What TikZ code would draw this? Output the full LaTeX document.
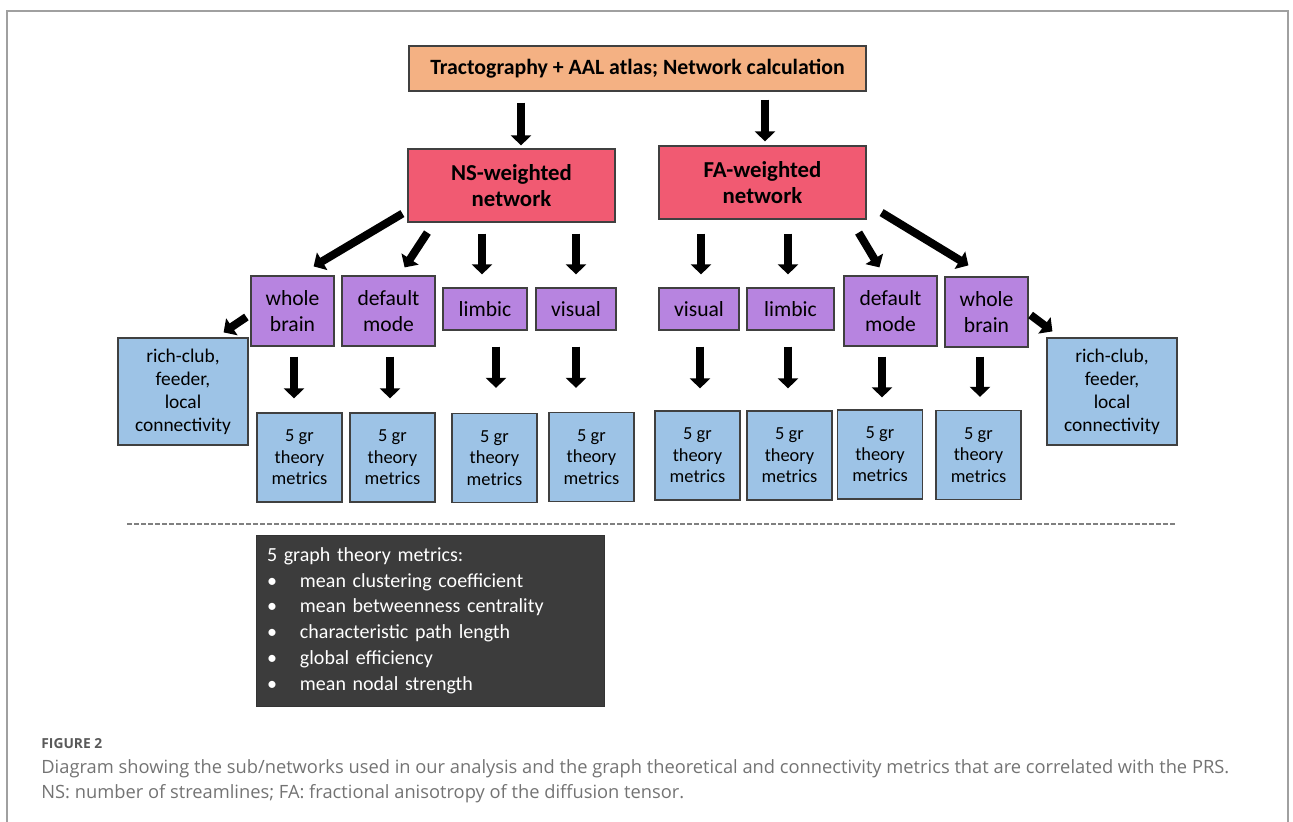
\documentclass[tikz,border=0pt]{standalone}
\usepackage{fontspec}
\setmainfont{Carlito}
\newfontfamily\capfont{Open Sans}
\usepackage{xcolor}
\usetikzlibrary{arrows.meta,calc}

\definecolor{topcol}{HTML}{F4B183}
\definecolor{netcol}{HTML}{F15A72}
\definecolor{subcol}{HTML}{B784E0}
\definecolor{metcol}{HTML}{9DC3E6}
\definecolor{legcol}{HTML}{3C3C3C}
\definecolor{framecol}{HTML}{A0A0A0}

\begin{document}
\begin{tikzpicture}[x=0.5pt,y=-0.5pt,
		box/.style={draw=black!75, line width=0.6pt, align=center, inner sep=0pt},
		topbox/.style={box, fill=topcol, font=\bfseries\fontsize{10.9}{13}\selectfont},
		netbox/.style={box, fill=netcol, font=\bfseries\fontsize{11.4}{13}\selectfont, minimum width=103.5pt, minimum height=36.5pt},
		subbox/.style={box, fill=subcol, font=\fontsize{10.8}{13}\selectfont},
		metbox/.style={box, fill=metcol, font=\fontsize{9.2}{10.75}\selectfont, minimum width=42.5pt, minimum height=44.5pt},
		clubbox/.style={box, fill=metcol, font=\fontsize{9.7}{11.5}\selectfont, minimum width=65pt, minimum height=53.5pt},
		flow/.style={line width=4pt, -{Triangle[length=5pt,width=10pt]}}]
	\useasboundingbox (0,0) rectangle (1293,822);
	\draw[framecol, line width=0.8pt] (7,822) -- (7,11) -- (1288,11) -- (1288,822);
	
	% pipeline
	\node[topbox, minimum width=228.5pt, minimum height=22.5pt] (top) at (637.5,68.5) {Tractography + AAL atlas; Network calculation};
	\node[netbox] (ns) at (511.5,185.5) {NS-weighted\\network};
	\node[netbox] (fa) at (762.5,182.5) {FA-weighted\\network};
	
	% subnetworks
	\node[subbox, minimum width=41.5pt, minimum height=35pt] (wbL) at (292.5,311) {whole\\brain};
	\node[subbox, minimum width=46.5pt, minimum height=35pt] (dmL) at (388.5,311) {default\\mode};
	\node[subbox, minimum width=42pt, minimum height=21pt] (limL) at (485,309) {limbic};
	\node[subbox, minimum width=40pt, minimum height=21pt] (visL) at (576,309) {visual};
	\node[subbox, minimum width=40pt, minimum height=21pt] (visR) at (699,309) {visual};
	\node[subbox, minimum width=43.5pt, minimum height=21pt] (limR) at (790.5,309) {limbic};
	\node[subbox, minimum width=46.5pt, minimum height=35pt] (dmR) at (890.5,311) {default\\mode};
	\node[subbox, minimum width=41.5pt, minimum height=35pt] (wbR) at (986.5,312) {whole\\brain};
	
	% metrics
	\node[clubbox] (rcL) at (183,391.5) {rich-club,\\feeder,\\local\\connectivity};
	\node[clubbox] (rcR) at (1112,391.5) {rich-club,\\feeder,\\local\\connectivity};
	\node[metbox] (gL1) at (299.5,457.5) {5 gr\\theory\\metrics};
	\node[metbox] (gL2) at (392.5,457.5) {5 gr\\theory\\metrics};
	\node[metbox] (gL3) at (494.5,458) {5 gr\\theory\\metrics};
	\node[metbox] (gL4) at (591.5,457) {5 gr\\theory\\metrics};
	\node[metbox] (gR1) at (697.5,455.5) {5 gr\\theory\\metrics};
	\node[metbox] (gR2) at (789.5,455.5) {5 gr\\theory\\metrics};
	\node[metbox] (gR3) at (880,454.5) {5 gr\\theory\\metrics};
	\node[metbox] (gR4) at (978.5,455) {5 gr\\theory\\metrics};
	
	% top to networks
	\draw[flow] ($(ns.north |- top.south)+(9.5,11)$) -- ($(ns.north)+(9.5,-3)$);
	\draw[flow] ($(fa.north |- top.south)+(2.5,8)$) -- ($(fa.north)+(2.5,-4)$);
	% NS network
	\draw[flow] ($(ns.south west)+(-5,-9)$) -- ($(wbL.north east)+(-21,-9)$);
	\draw[flow] ($(ns.south west)+(20,10)$) -- ($(dmL.north east)+(-31,-8)$);
	\draw[flow] ($(limL.north |- ns.south)+(-3,11)$) -- ($(limL.north)+(-3,-13)$);
	\draw[flow] ($(visL.north |- ns.south)+(0,11)$) -- ($(visL.north)+(0,-13)$);
	% FA network
	\draw[flow] ($(visR.north |- fa.south)+(2,14)$) -- ($(visR.north)+(2,-13)$);
	\draw[flow] ($(limR.north |- fa.south)+(-2.5,14)$) -- ($(limR.north)+(-2.5,-13)$);
	\draw[flow] ($(fa.south east)+(-8,13)$) -- ($(dmR.north west)+(36,-8)$);
	\draw[flow] ($(fa.south east)+(15,-7)$) -- ($(wbR.north west)+(24,-11)$);
	% rich-club
	\draw[flow] ($(wbL.west)+(-4,6)$) -- ($(rcL.north east)+(-25,-5)$);
	\draw[flow] ($(wbR.east)+(2,3)$) -- ($(rcR.north west)+(6,-6)$);
	% subnetworks to metrics
	\draw[flow] ($(wbL.south)+(1.5,10)$) -- ($(wbL.south |- gL1.north)+(1.5,-14)$);
	\draw[flow] ($(dmL.south)+(1.5,10)$) -- ($(dmL.south |- gL2.north)+(1.5,-14)$);
	\draw[flow] ($(limL.south)+(11,16)$) -- ($(limL.south |- gL3.north)+(11,-25)$);
	\draw[flow] ($(visL.south)+(0,16)$) -- ($(visL.south |- gL4.north)+(0,-24)$);
	\draw[flow] ($(visR.south)+(1,16)$) -- ($(visR.south |- gR1.north)+(1,-22)$);
	\draw[flow] ($(limR.south)+(-2.5,16)$) -- ($(limR.south |- gR2.north)+(-2.5,-22)$);
	\draw[flow] ($(dmR.south)+(-8.5,10)$) -- ($(dmR.south |- gR3.north)+(-8.5,-12)$);
	\draw[flow] ($(wbR.south)+(-6.5,9)$) -- ($(wbR.south |- gR4.north)+(-6.5,-13)$);
	
	% legend
	\draw[gray, line width=0.6pt, dash pattern=on 2.5pt off 1pt] (127,524) -- (1177,524);
	\node[draw=black!80, fill=legcol, text=white, align=left, inner sep=5.5pt, text width=163pt,
		minimum height=85.5pt, font=\fontsize{10}{12.9}\selectfont] (legend) at (430,620.5)
		{5 graph theory metrics:\\
		\makebox[16.5pt][l]{\textbullet}mean clustering coefficient\\
		\makebox[16.5pt][l]{\textbullet}mean betweenness centrality\\
		\makebox[16.5pt][l]{\textbullet}characteristic path length\\
		\makebox[16.5pt][l]{\textbullet}global efficiency\\
		\makebox[16.5pt][l]{\textbullet}mean nodal strength};
	
	% caption
	\node[anchor=base west, inner sep=0pt, text=black!65, font=\capfont\bfseries\fontsize{6.9}{8}\selectfont] (figno) at (41,748) {FIGURE 2};
	\node[anchor=base west, inner sep=0pt, text=black!55, font=\capfont\fontsize{9.15}{13}\selectfont] (cap1) at (41,773) {Diagram showing the sub/networks used in our analysis and the graph theoretical and connectivity metrics that are correlated with the PRS.};
	\node[anchor=base west, inner sep=0pt, text=black!55, font=\capfont\fontsize{9.15}{13}\selectfont] (cap2) at (41,798) {NS: number of streamlines; FA: fractional anisotropy of the diffusion tensor.};
\end{tikzpicture}
\end{document}
